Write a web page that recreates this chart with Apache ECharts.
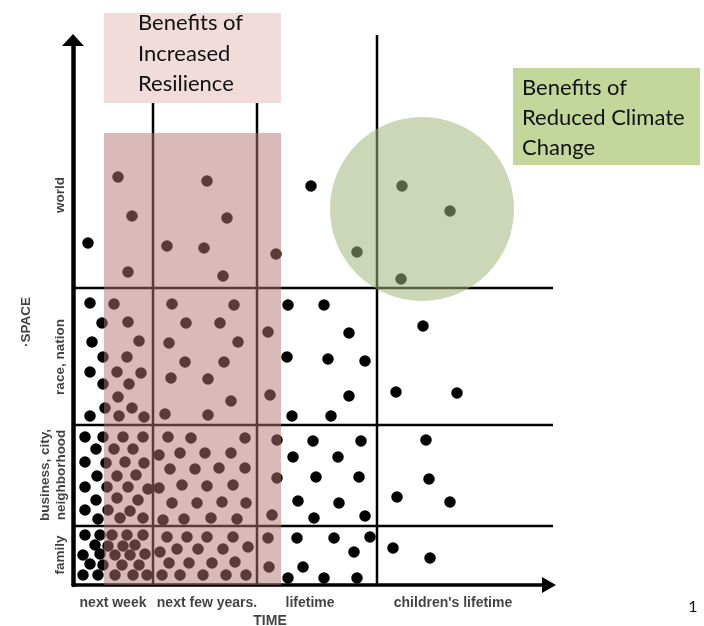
<!DOCTYPE html>
<html><head><meta charset="utf-8">
<script src="https://cdn.jsdelivr.net/npm/echarts@6/dist/echarts.min.js"></script>
<style>html,body{margin:0;padding:0;background:#fff}#c{width:704px;height:626px}</style>
</head><body><div id="c"></div>
<script>
// ---- categories & label anchors (data units) ----
const timeCategories = ["next week", "next few years.", "lifetime", "children's lifetime"];
const timeLabelAt = [40, 134, 237, 380];
const spaceCategories = ["family", "business, city,\nneighborhood", "race, nation", "world"];
const spaceLabelAt = [30, 110, 228, 390];
const axisTitles = ["TIME", "\u00b7SPACE"];

// ---- region boundaries ----
const timeBounds = [80, 184, 304];
const timeBoundTops = [490, 490, 550];
const spaceBounds = [59, 160, 297];
const spaceBoundEnd = 480;

// ---- highlighted regions ----
const resilienceSpan = [31, 208, 0, 452];
const resilienceLabelBox = [31, 208, 482, 572];
const resilienceText = ["Benefits of", "Increased", "Resilience"];
const climateCenter = [349, 376];
const climateText = ["Benefits of", "Reduced Climate", "Change"];

// ---- dots (time, space) ----
const worldDots = [[15,342],[45,408],[134,404],[59,369],[154,367],[94,339],[131,337],[203,331],[55,313],[150,309],[238,399],[329,399],[377,374],[284,333],[328,306]];
const nationDots = [[17,282],[41,281],[99,281],[161,280],[215,280],[251,280],[29,262],[55,263],[113,262],[147,262],[195,253],[276,252],[350,259],[19,243],[66,244],[96,242],[165,243],[30,228],[54,228],[112,223],[151,223],[214,228],[255,226],[292,224],[17,213],[44,213],[68,212],[98,207],[135,206],[30,201],[56,201],[45,188],[197,190],[276,189],[323,193],[384,192],[158,184],[32,177],[59,177],[17,169],[46,169],[71,168],[92,171],[135,170],[219,169],[258,169]];
const cityDots = [[12,148],[30,148],[50,148],[70,148],[95,148],[118,147],[172,147],[23,136],[41,136],[60,136],[86,130],[107,132],[132,132],[158,132],[12,123],[33,122],[52,123],[71,122],[97,116],[122,116],[146,117],[172,117],[24,109],[44,109],[63,110],[12,98],[34,98],[55,98],[75,96],[86,97],[109,100],[134,99],[160,100],[23,85],[44,87],[65,85],[99,82],[124,82],[149,83],[173,82],[12,75],[35,75],[57,74],[25,66],[47,67],[70,67],[90,65],[111,66],[138,67],[164,66],[204,145],[204,107],[199,70],[240,144],[288,144],[220,128],[265,128],[243,108],[286,108],[225,84],[266,82],[241,67],[292,69],[353,145],[356,106],[324,88],[377,83]];
const familyDots = [[12,50],[27,50],[39,50],[54,50],[70,50],[94,48],[114,48],[134,48],[160,48],[22,40],[35,39],[50,39],[62,40],[87,33],[104,36],[125,36],[150,36],[175,38],[10,30],[27,31],[42,30],[57,30],[72,31],[17,21],[30,20],[49,20],[66,20],[96,22],[116,22],[139,22],[162,23],[10,10],[25,10],[42,10],[60,10],[74,10],[89,10],[107,10],[130,10],[153,10],[173,10],[195,47],[196,18],[224,47],[261,47],[297,48],[281,33],[230,18],[215,7],[251,7],[284,7],[320,37],[357,27]];

const dividerSegments = timeBounds.map((x, i) => [x, 0, x, timeBoundTops[i]])
  .concat(spaceBounds.map(y => [0, y, spaceBoundEnd, y]));

const chart = echarts.init(document.getElementById('c'), null, {renderer: 'canvas'});
const labelFont = 'Liberation Sans';
const calloutFont = 'Lato';

chart.setOption({
  animation: false,
  backgroundColor: '#ffffff',
  grid: {left: 73, right: 155, top: 40, bottom: 41},
  xAxis: {
    type: 'value', min: 0, max: 476,
    axisLine: {show: true, symbol: ['none', 'triangle'], symbolSize: [16, 14], lineStyle: {color: '#000', width: 3.5}},
    axisTick: {show: false}, axisLabel: {show: false}, splitLine: {show: false}
  },
  yAxis: {
    type: 'value', min: 0, max: 545,
    axisLine: {show: true, symbol: ['none', 'triangle'], symbolSize: [22, 12], lineStyle: {color: '#000', width: 4.5}},
    axisTick: {show: false}, axisLabel: {show: false}, splitLine: {show: false}
  },
  series: [
    {
      type: 'custom', name: 'dividers', z: 1, clip: false, silent: true,
      data: dividerSegments,
      renderItem: (params, api) => {
        const a = api.coord([api.value(0), api.value(1)]);
        const b = api.coord([api.value(2), api.value(3)]);
        return {type: 'line', shape: {x1: a[0], y1: a[1], x2: b[0], y2: b[1]}, style: {stroke: '#000', lineWidth: 2.5}};
      }
    },
    {
      type: 'scatter', name: 'dots', z: 2, clip: false, silent: true,
      symbol: 'circle', symbolSize: 11.5,
      itemStyle: {color: '#000', opacity: 1},
      data: worldDots.concat(nationDots, cityDots, familyDots)
    },
    {
      type: 'custom', name: 'resilience', z: 3, clip: false, silent: true,
      data: [resilienceSpan],
      renderItem: (params, api) => {
        const a = api.coord([api.value(0), api.value(2)]);
        const b = api.coord([api.value(1), api.value(3)]);
        return {type: 'rect', shape: {x: a[0], y: b[1], width: b[0] - a[0], height: a[1] - b[1]},
          style: {fill: 'rgba(180,116,116,0.5)'}};
      }
    },
    {
      type: 'scatter', name: 'climate', z: 4, clip: false, silent: true,
      symbol: 'circle', symbolSize: 184,
      itemStyle: {color: 'rgba(158,182,120,0.54)', opacity: 1},
      data: [climateCenter]
    },
    {
      type: 'custom', name: 'resilienceLabel', z: 10, clip: false, silent: true,
      data: [resilienceLabelBox],
      renderItem: (params, api) => {
        const a = api.coord([api.value(0), api.value(2)]);
        const b = api.coord([api.value(1), api.value(3)]);
        const children = [{type: 'rect', z2: 0, shape: {x: a[0], y: b[1], width: b[0] - a[0], height: a[1] - b[1]}, style: {fill: '#F2DCDB'}}];
        resilienceText.forEach((t, i) => {
          children.push({type: 'text', z2: 1, style: {text: t, x: a[0] + 34, y: b[1] + 10 + i * 30.5, fill: '#111',
            font: '22px ' + calloutFont, textAlign: 'left', textVerticalAlign: 'middle'}});
        });
        return {type: 'group', children};
      }
    },
    {
      type: 'scatter', name: 'timeLabels', z: 5, clip: false, silent: true,
      symbolSize: 1, itemStyle: {color: 'rgba(0,0,0,0)'},
      label: {show: true, position: 'inside', formatter: '{b}', color: '#111', fontFamily: labelFont, fontWeight: 'bold', fontSize: 14},
      data: timeCategories.map((n, i) => ({name: n, value: [timeLabelAt[i], -18]}))
        .concat([{name: axisTitles[0], value: [197, -36]}])
    },
    {
      type: 'scatter', name: 'spaceLabels', z: 5, clip: false, silent: true,
      symbolSize: 1, itemStyle: {color: 'rgba(0,0,0,0)'},
      label: {show: true, position: 'inside', formatter: '{b}', rotate: 90, color: '#111', fontFamily: labelFont, fontWeight: 'bold', fontSize: 13.5, lineHeight: 16},
      data: spaceCategories.map((n, i) => ({name: n, value: [n.indexOf('\n') >= 0 ? -20 : -13, spaceLabelAt[i]]}))
        .concat([{name: axisTitles[1], value: [-47, 263]}])
    }
  ],
  graphic: [
    {type: 'rect', z: 20, shape: {x: 513, y: 68, width: 187, height: 97}, style: {fill: '#C4D79B'}},
  ].concat(climateText.map((t, i) => ({
      type: 'text', z: 21, style: {text: t, x: 522, y: 88 + i * 30, fill: '#111', font: '22px ' + calloutFont, textVerticalAlign: 'middle'}})))
   .concat([{type: 'text', z: 21, style: {text: '1', x: 693, y: 607, fill: '#111', font: '16px ' + calloutFont, textAlign: 'center', textVerticalAlign: 'middle'}}])
});
</script>
</body></html>
